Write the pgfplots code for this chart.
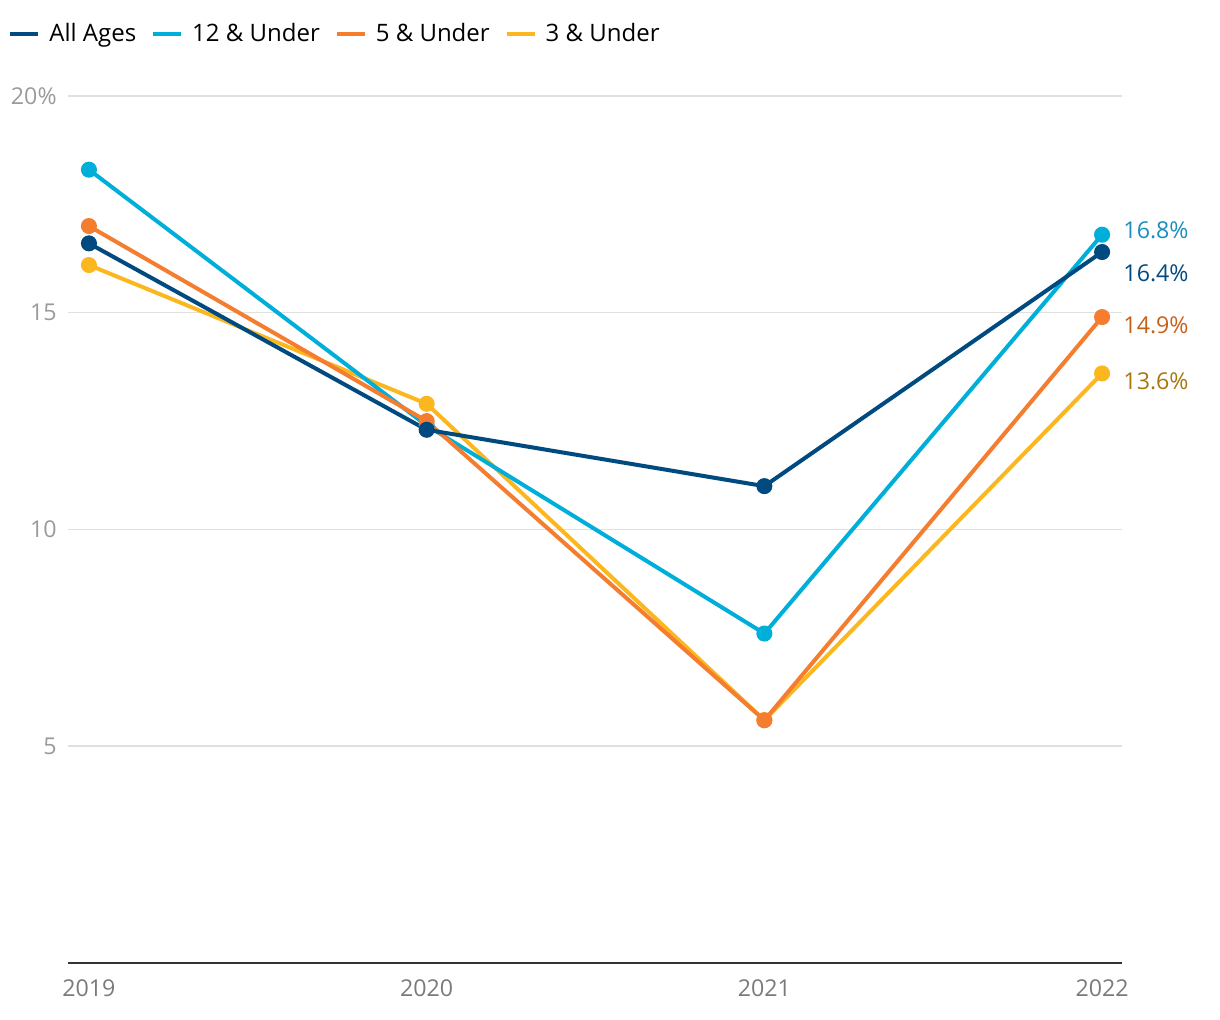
\documentclass[border=0pt]{standalone}
\usepackage{fontspec}
\setmainfont{Open Sans}
\usepackage{pgfplots}
\pgfplotsset{compat=1.18}
\definecolor{cnavy}{HTML}{004A7F}
\definecolor{ccyan}{HTML}{00AEDA}
\definecolor{corange}{HTML}{F47D30}
\definecolor{cyellow}{HTML}{FDB71E}
\definecolor{lcyan}{HTML}{1A8DBF}
\definecolor{lorange}{HTML}{C95F14}
\definecolor{lyellow}{HTML}{A8770C}
\definecolor{ticky}{HTML}{9A9A9A}
\definecolor{tickx}{HTML}{7A7A7A}
\definecolor{gridc}{HTML}{E0E0E0}
\begin{document}
\begin{tikzpicture}[x=1pt,y=1pt]
\path[use as bounding box] (0,0) rectangle (610,510);
\begin{axis}[
  at={(34pt,28.5pt)}, anchor=south west,
  scale only axis, width=527pt, height=433.5pt,
  xmin=2018.938, xmax=2022.059, ymin=0, ymax=20,
  axis x line*=bottom, axis y line*=left,
  y axis line style={draw=none},
  x axis line style={-, draw=black!80, line width=1pt},
  xtick={2019,2020,2021,2022}, xticklabels={2019,2020,2021,2022},
  ytick={5,10,15,20}, yticklabels={5,10,15,20\%},
  major tick length=0pt,
  ymajorgrids, grid style={gridc, line width=0.75pt},
  /pgf/number format/assume math mode=true,
  x tick label style={font=\fontsize{11.6}{13}\selectfont, text=tickx, anchor=north, inner sep=0pt, yshift=-8pt},
  y tick label style={font=\fontsize{11.6}{13}\selectfont, text=ticky, anchor=east, inner sep=0pt, xshift=-5.5pt},
  clip=false,
  legend style={at={(-0.0626,1.0715)}, anchor=west, draw=none, fill=none,
    font=\fontsize{12}{14}\selectfont, legend columns=-1,
    /tikz/every even column/.append style={column sep=5.5pt}},
  legend image code/.code={\draw[#1, mark=none, line width=2pt] (0pt,0pt) -- (14pt,0pt); \path (16.5pt,0pt);},
  every axis plot/.append style={line width=2pt, mark=*, mark size=3pt},
]
\addlegendimage{cnavy}
\addlegendentry{All Ages}
\addlegendimage{ccyan}
\addlegendentry{12 \& Under}
\addlegendimage{corange}
\addlegendentry{5 \& Under}
\addlegendimage{cyellow}
\addlegendentry{3 \& Under}
\addplot[cyellow, mark options={fill=cyellow, draw=cyellow}, forget plot] coordinates {(2019,16.1) (2020,12.9) (2021,5.6) (2022,13.6)};
\addplot[ccyan, mark options={fill=ccyan, draw=ccyan}, forget plot] coordinates {(2019,18.3) (2020,12.4) (2021,7.6) (2022,16.8)};
\addplot[corange, mark options={fill=corange, draw=corange}, forget plot] coordinates {(2019,17.0) (2020,12.5) (2021,5.6) (2022,14.9)};
\addplot[cnavy, mark options={fill=cnavy, draw=cnavy}, forget plot] coordinates {(2019,16.6) (2020,12.3) (2021,11.0) (2022,16.4)};
\node[anchor=west, inner sep=0pt, text=lcyan, font=\fontsize{11.6}{13}\selectfont, xshift=10.5pt, yshift=2.3pt] at (axis cs:2022,16.8) {16.8\%};
\node[anchor=west, inner sep=0pt, text=cnavy, font=\fontsize{11.6}{13}\selectfont, xshift=10.5pt, yshift=-10.5pt] at (axis cs:2022,16.4) {16.4\%};
\node[anchor=west, inner sep=0pt, text=lorange, font=\fontsize{11.6}{13}\selectfont, xshift=10.5pt, yshift=-4pt] at (axis cs:2022,14.9) {14.9\%};
\node[anchor=west, inner sep=0pt, text=lyellow, font=\fontsize{11.6}{13}\selectfont, xshift=10.5pt, yshift=-3.8pt] at (axis cs:2022,13.6) {13.6\%};
\end{axis}
\end{tikzpicture}
\end{document}
